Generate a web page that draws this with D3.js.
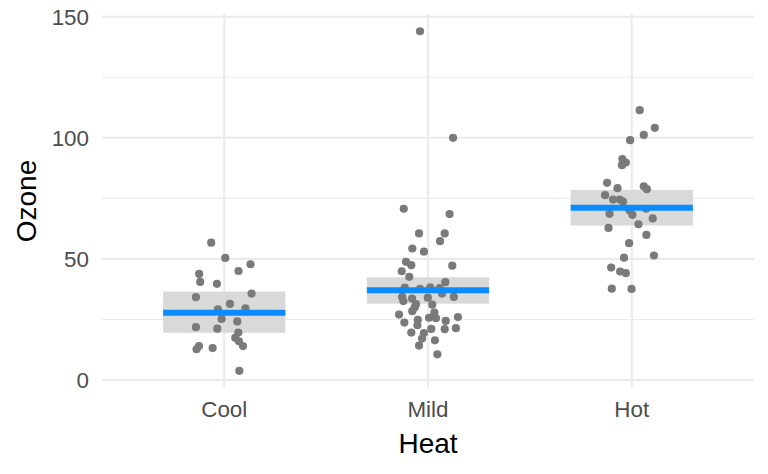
<!DOCTYPE html>
<html>
<head>
<meta charset="utf-8">
<script src="https://cdn.jsdelivr.net/npm/d3@7"></script>
<style>
  html, body { margin: 0; padding: 0; background: #fff; }
  svg { display: block; }
  text { font-family: "Liberation Sans", Arial, Helvetica, sans-serif; }
</style>
</head>
<body>
<svg id="chart" width="768" height="474"></svg>
<script>
// ---- data ----
const categories = ["Cool", "Mild", "Hot"];

const coolValues = [56.7, 50.4, 47.8, 43.8, 45.0, 40.5, 39.7, 35.7, 34.2, 31.4, 29.2, 29.6, 25.2, 24.2, 21.8, 21.2, 19.6, 17.4, 16.0, 14.0, 14.0, 12.7, 13.2, 3.8];
const coolJitter = [-0.064, 0.005, 0.129, -0.123, 0.070, -0.118, -0.036, 0.134, -0.139, 0.028, -0.031, 0.104, -0.013, 0.064, -0.139, -0.034, 0.069, 0.054, 0.072, 0.092, -0.124, -0.136, -0.057, 0.074];

const mildValues = [144, 100, 70.7, 68.5, 60.5, 60.5, 57.3, 54.3, 53.0, 48.8, 47.4, 47.2, 44.9, 42.6, 40.4, 38.1, 37.6, 38.3, 37.9, 35.7, 34.3, 34.3, 34.0, 33.6, 32.6, 31.3, 31.1, 30.0, 28.4, 27.8, 27.0, 25.7, 25.5, 26.0, 23.7, 24.8, 24.4, 22.6, 21.1, 21.0, 21.4, 19.6, 19.4, 17.1, 16.4, 14.2, 10.6];
const mildJitter = [-0.039, 0.123, -0.119, 0.106, -0.044, 0.082, 0.059, -0.077, -0.020, -0.108, -0.082, 0.119, -0.129, -0.092, 0.085, -0.114, -0.039, 0.011, 0.057, 0.069, -0.127, 0.127, -0.001, -0.078, -0.121, -0.059, 0.021, -0.065, -0.077, 0.031, -0.142, 0.005, 0.039, 0.147, -0.116, -0.050, 0.087, -0.052, 0.016, 0.082, 0.137, -0.082, -0.020, -0.029, 0.034, -0.044, 0.046];

const hotValues = [111.4, 104.1, 101.2, 99.0, 91.2, 89.8, 88.7, 81.4, 80.0, 78.8, 79.2, 76.3, 74.5, 74.5, 73.7, 70.7, 70.1, 68.6, 68.2, 66.7, 64.3, 62.8, 59.9, 56.5, 50.5, 51.4, 46.4, 44.8, 44.1, 37.7, 37.6];
const hotJitter = [0.039, 0.113, 0.059, -0.008, -0.046, -0.029, -0.048, -0.121, 0.059, 0.074, -0.070, -0.131, -0.092, -0.059, -0.043, 0.070, -0.011, -0.109, 0.003, 0.103, 0.033, -0.114, 0.072, -0.013, -0.038, 0.109, -0.101, -0.057, -0.029, -0.098, -0.001];

// summary: mean and interval per category
const means = [27.8, 37.1, 71.1];
const lowers = [19.5, 31.5, 63.8];
const uppers = [36.5, 42.4, 78.5];

const yTicks = [0, 50, 100, 150];
const yMinorTicks = [25, 75, 125];

const xTitle = "Heat";
const yTitle = "Ozone";

// ---- layout ----
const svg = d3.select("#chart");
const panel = { left: 102, right: 754, top: 14, bottom: 388 };

const x = d3.scaleLinear().domain([-0.6, categories.length - 0.4]).range([panel.left, panel.right]);
const y = d3.scaleLinear().domain([0, 150]).range([380, 16.7]);

const tickColor = "#4d4d4d";
const gridColor = "#ebebeb";

// minor grid
svg.append("g").selectAll("line").data(yMinorTicks).join("line")
  .attr("x1", panel.left).attr("x2", panel.right)
  .attr("y1", d => y(d)).attr("y2", d => y(d))
  .attr("stroke", gridColor).attr("stroke-width", 1.1);

// major grid
svg.append("g").selectAll("line").data(yTicks).join("line")
  .attr("x1", panel.left).attr("x2", panel.right)
  .attr("y1", d => y(d)).attr("y2", d => y(d))
  .attr("stroke", gridColor).attr("stroke-width", 2.1);

svg.append("g").selectAll("line").data(categories).join("line")
  .attr("x1", (d, i) => x(i)).attr("x2", (d, i) => x(i))
  .attr("y1", panel.top).attr("y2", panel.bottom)
  .attr("stroke", gridColor).attr("stroke-width", 2.1);

// bands
const summary = categories.map((c, i) => ({ i, mean: means[i], lo: lowers[i], hi: uppers[i] }));
svg.append("g").selectAll("rect").data(summary).join("rect")
  .attr("x", d => x(d.i - 0.3))
  .attr("width", d => x(d.i + 0.3) - x(d.i - 0.3))
  .attr("y", d => y(d.hi))
  .attr("height", d => y(d.lo) - y(d.hi))
  .attr("fill", "#d9d9d9");

// points
const groups = [
  { values: coolValues, jitter: coolJitter },
  { values: mildValues, jitter: mildJitter },
  { values: hotValues, jitter: hotJitter }
];
const pts = [];
groups.forEach((g, i) => g.values.forEach((v, k) => pts.push({ i, v, j: g.jitter[k] })));
svg.append("g").selectAll("circle").data(pts).join("circle")
  .attr("cx", d => x(d.i + d.j))
  .attr("cy", d => y(d.v))
  .attr("r", 4.1)
  .attr("fill", "#7a7a7a");

// mean lines
svg.append("g").selectAll("line").data(summary).join("line")
  .attr("x1", d => x(d.i - 0.3)).attr("x2", d => x(d.i + 0.3))
  .attr("y1", d => y(d.mean)).attr("y2", d => y(d.mean))
  .attr("stroke", "#0a8cff").attr("stroke-width", 6);

// y tick labels
svg.append("g").selectAll("text").data(yTicks).join("text")
  .attr("x", 89).attr("y", d => y(d)).attr("dy", "0.36em")
  .attr("text-anchor", "end")
  .attr("font-size", 22.4).attr("fill", tickColor)
  .text(d => d);

// x tick labels
svg.append("g").selectAll("text").data(categories).join("text")
  .attr("x", (d, i) => x(i)).attr("y", 417.3)
  .attr("text-anchor", "middle")
  .attr("font-size", 22.4).attr("fill", tickColor)
  .text(d => d);

// axis titles
svg.append("text")
  .attr("x", (panel.left + panel.right) / 2).attr("y", 452.7)
  .attr("text-anchor", "middle").attr("font-size", 28).attr("fill", "#000")
  .text(xTitle);

svg.append("text")
  .attr("transform", `translate(36,${(panel.top + panel.bottom) / 2}) rotate(-90)`)
  .attr("text-anchor", "middle").attr("font-size", 28).attr("fill", "#000")
  .text(yTitle);
</script>
</body>
</html>
